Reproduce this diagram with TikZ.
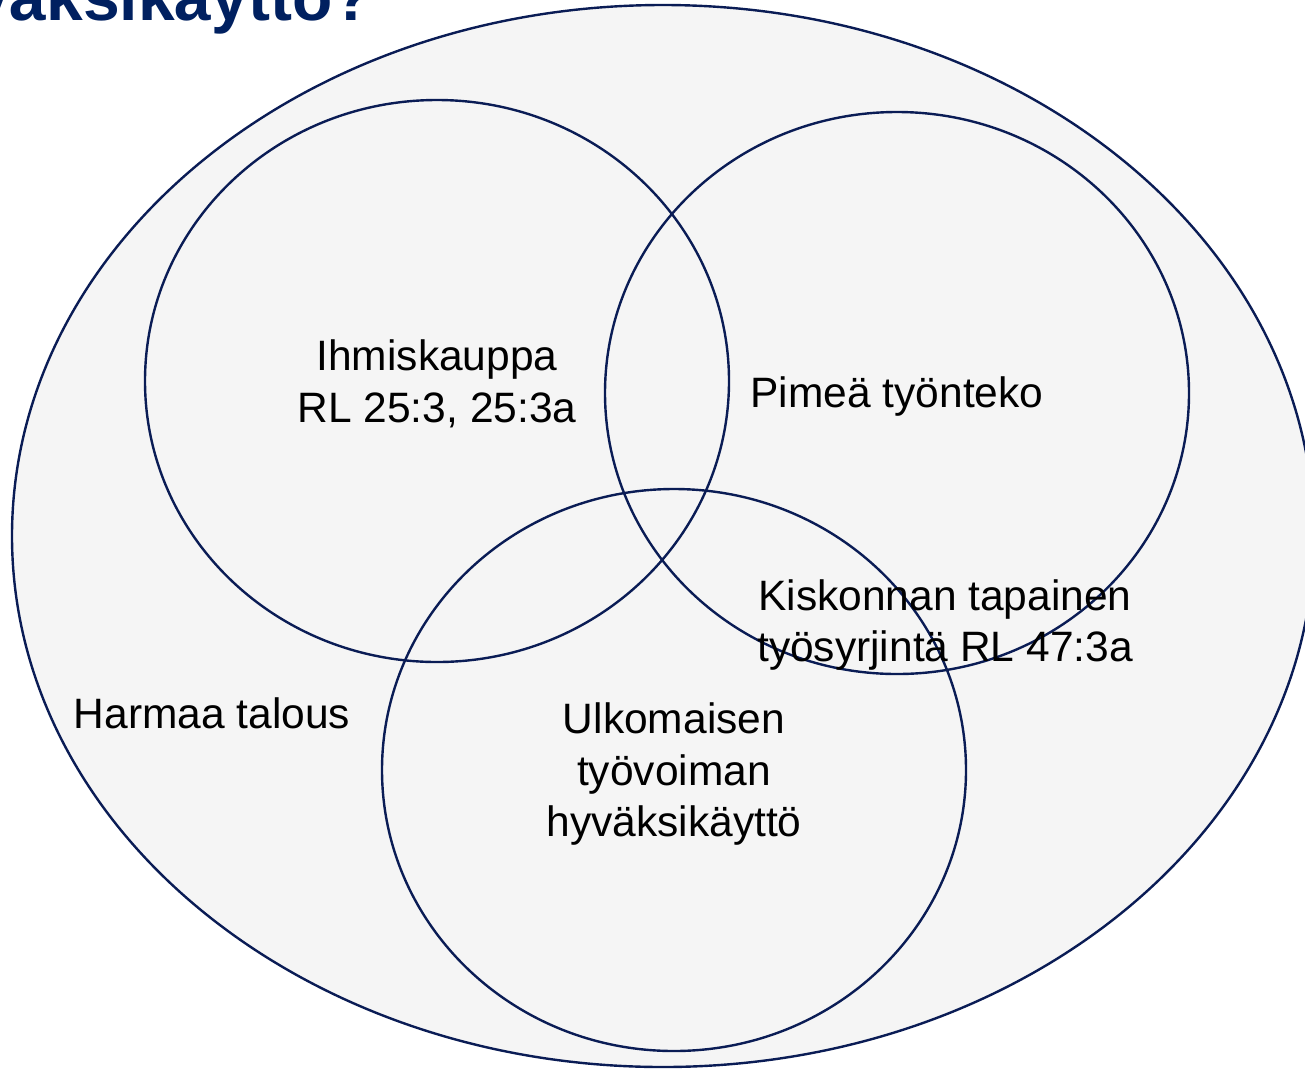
\documentclass[tikz,border=0pt]{standalone}
\usepackage{fontspec}
\setmainfont{Liberation Sans}
\definecolor{navy}{HTML}{0A1C55}
\definecolor{titleblue}{HTML}{002060}
\definecolor{bgfill}{HTML}{F5F5F5}
\begin{document}
\begin{tikzpicture}[x=1pt,y=-1pt,
  ring/.style={draw=navy,line width=2.4pt},
  lbl/.style={font=\fontsize{42.5}{51.5}\selectfont,align=center,text=black,inner sep=0pt}]
\useasboundingbox (0,0) rectangle (1305,1069);
\begin{scope}
\clip (0,0) rectangle (1305,1069);
\node[anchor=base east,inner sep=0pt,text=titleblue,font=\fontsize{66}{70}\selectfont\bfseries] (title) at (373,20) {hyväksikäyttö?};
\draw[ring,fill=bgfill] (663,536) ellipse [x radius=651, y radius=531];
\draw[ring] (437,381) ellipse [x radius=292, y radius=281];
\draw[ring] (897,393) ellipse [x radius=292, y radius=281];
\draw[ring] (674,770) ellipse [x radius=292, y radius=281];
\end{scope}
\node[lbl] (ihm) at (437,384) {Ihmiskauppa\\RL 25:3, 25:3a};
\node[lbl] (pim) at (897,397) {Pimeä työnteko};
\node[lbl] (kis) at (945,625) {Kiskonnan tapainen\\työsyrjintä RL 47:3a};
\node[lbl] (har) at (212,713) {Harmaa talous};
\node[lbl] (ulk) at (674,774) {Ulkomaisen\\työvoiman\\hyväksikäyttö};
\end{tikzpicture}
\end{document}
